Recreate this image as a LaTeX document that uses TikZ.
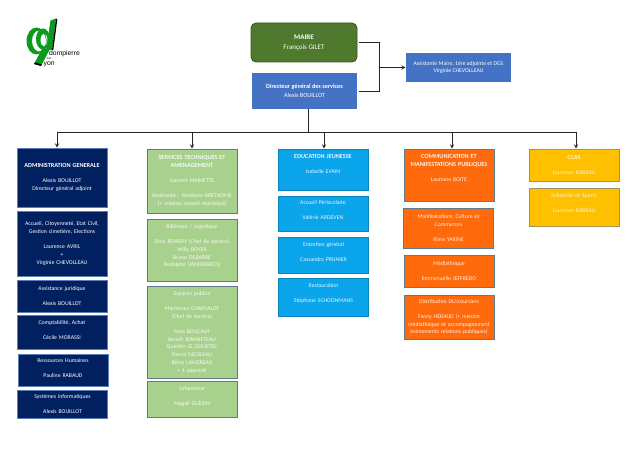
\documentclass[tikz,border=0pt]{standalone}
\usepackage{tikz, xcolor, fontspec}
\usetikzlibrary{shapes,arrows}
\setmainfont{Carlito}
\newfontfamily\logofont{Liberation Sans}
\newcommand{\hdr}[1]{{\fontsize{6.2}{7.7}\selectfont\textbf{#1}}}
\definecolor{navybox}{HTML}{002060}
\definecolor{navyline}{HTML}{5B7DB8}
\definecolor{greenbox}{HTML}{A9D18E}
\definecolor{cyanbox}{HTML}{0BA5EC}
\definecolor{orangebox}{HTML}{FF6A0D}
\definecolor{goldbox}{HTML}{FFC000}
\definecolor{mairebox}{HTML}{4F7A2E}
\definecolor{dgsbox}{HTML}{4472C4}
\definecolor{boxline}{HTML}{5F7A8C}
\definecolor{logogreen}{HTML}{0C9A1E}

\begin{document}
\begin{tikzpicture}[x=1pt, y=-1pt]
\tikzstyle{vertexr}=[rectangle, text=white, align=center, inner sep=1pt, line width=0.8pt, font=\fontsize{5.75}{7.7}\selectfont]
\tikzstyle{vertexn}=[vertexr, fill=navybox, draw=navyline, minimum width=90pt, text width=88pt]
\tikzstyle{vertexg}=[vertexr, fill=greenbox, draw=boxline, minimum width=90pt, text width=88pt, text=white!90!greenbox]
\tikzstyle{vertexb}=[vertexr, fill=cyanbox, draw=cyanbox!80!black, minimum width=90pt, text width=88pt, text=white!90!cyanbox]
\tikzstyle{vertexo}=[vertexr, fill=orangebox, draw=boxline, minimum width=90pt, text width=88pt, text=white!90!orangebox]
\tikzstyle{vertexy}=[vertexr, fill=goldbox, draw=boxline!60!goldbox, minimum width=90pt, text width=88pt, text=white!85!goldbox]
\tikzstyle{drawstyle}=[line width=0.9pt, black!85]
\tikzstyle{arrowstyle}=[drawstyle, ->, >=stealth]
\useasboundingbox (0,0) rectangle (640,473);

% logo
\fill[logogreen] (50.5,20.5) -- (56,18.5) -- (52,50) -- (46,50) -- cycle;
\fill[black] (56,18.5) -- (57.3,19.5) -- (53.3,50) -- (52,50) -- cycle;
\fill[logogreen, even odd rule] (36.5,41) ellipse [x radius=10, y radius=13.5] (39,41) ellipse [x radius=7, y radius=10.5];
\fill[logogreen, even odd rule] (43,39) ellipse [x radius=7, y radius=10.5] (44,40) ellipse [x radius=3.5, y radius=6.5];
\fill[logogreen] (42,49) -- (50,49) -- (41,66) -- (34,64) -- cycle;
\fill[black] (34,64) -- (41,66) -- (41.8,64.5) -- (35,62.3) -- cycle;
\node[inner sep=0pt, anchor=west, font=\logofont\fontsize{6.8}{8}\selectfont] (L0x0) at (49,53.5) {dompierre};
\node[inner sep=0pt, anchor=west, font=\logofont\fontsize{3.2}{4}\selectfont] (L0x1) at (46.5,58.5) {sur};
\node[inner sep=0pt, anchor=west, font=\logofont\fontsize{6.8}{8}\selectfont] (L0x2) at (43.5,64.5) {yon};

% direction
\node[vertexr, fill=mairebox, draw=mairebox!70!black, rounded corners=5pt, minimum width=106pt, minimum height=39pt, font=\fontsize{7}{10}\selectfont] (M0x0) at (304,42.5) {\textbf{MAIRE}\\Fran\c{c}ois GILET};
\node[vertexr, fill=dgsbox, minimum width=105pt, minimum height=36pt, font=\fontsize{6.2}{8.5}\selectfont] (M0x1) at (304.5,91) {\textbf{Directeur g\'en\'eral des services}\\Alexis BOUILLOT};
\node[vertexr, fill=dgsbox, minimum width=105pt, minimum height=29pt] (M1x0) at (458.5,67.5) {Assistante Maire, 1\`ere adjointe et DGS\\Virginie CHEVOLLEAU};
\coordinate (R0) at (379,67.5);
\draw[drawstyle, shorten <=2pt] (M0x0.east) -| (R0);
\draw[drawstyle, shorten <=2pt] (M0x1.east) -| (R0);
\draw[arrowstyle] (R0) -- (M1x0.west);

% colonne 1
\node[vertexn, minimum height=59pt] (C1x0) at (62,177.5) {\hdr{ADMINISTRATION GENERALE}\\[7.7pt]Alexis BOUILLOT\\Directeur g\'en\'eral adjoint};
\node[vertexn, minimum height=65pt] (C1x1) at (62,243.5) {Accueil, Citoyennet\'e, Etat Civil,\\Gestion cimeti\`ere, Elections\\[7.7pt]Laurence AVRIL\\+\\Virginie CHEVOLLEAU};
\node[vertexn, minimum height=32pt] (C1x2) at (62,296) {Assistance juridique\\[7.7pt]Alexis BOUILLOT};
\node[vertexn, minimum height=34pt] (C1x3) at (62,332) {Comptabilit\'e, Achat\\[7.7pt]C\'ecile MORASSI\\[-3.7pt]~};
\node[vertexn, minimum height=32pt] (C1x4) at (63,370) {Ressources Humaines\\[7.7pt]Pauline RABAUD\\[-3.7pt]~};
\node[vertexn, minimum height=28pt] (C1x5) at (62.5,404) {Syst\`emes informatiques\\[7.7pt]Alexis BOUILLOT};

% colonne 2
\node[vertexg, minimum height=64pt] (C2x0) at (192,181) {\hdr{SERVICES TECHNIQUES ET}\\\hdr{AMENAGEMENT}\\[7.7pt]Laurent MAINETTE\\[7.7pt]Assistante : Roselyne BRETHOME\\(+ mission conseil municipal)};
\node[vertexg, minimum height=62pt] (C2x1) at (192,250) {B\^atiment / Logistique\\[7.7pt]Dino REMERY (Chef de service)\\Willy BOYER\\Bruno DEBARRE\\Rodolphe VANDERBECQ\\[1.3pt]~};
\node[vertexg, minimum height=92pt] (C2x2) at (192,332) {Espaces publics\\[7.7pt]Marinescu CHARVALOT\\(Chef de service)\\[7.7pt]Yann BOUCAUT\\Beno\^it JEANNETEAU\\Quentin LE GOUETEC\\Pascal NICOLEAU\\R\'emy LAHOREAU\\+ 1 apprenti};
\node[vertexg, minimum height=36pt] (C2x3) at (192,399) {Urbanisme\\[7.7pt]Magali GUERIN\\[-1.7pt]~};

% colonne 3
\node[vertexb, minimum height=41pt] (C3x0) at (323,169.5) {\hdr{EDUCATION JEUNESSE}\\[7.7pt]Isabelle EVAIN\\[3.3pt]~};
\node[vertexb, minimum height=35pt] (C3x1) at (323,213.5) {Accueil P\'eriscolaire\\[7.7pt]Val\'erie ARDEVEN\\[-0.7pt]~};
\node[vertexb, minimum height=36pt] (C3x2) at (323.5,255) {Entretien g\'en\'eral\\[7.7pt]Cassandra PRUNIER\\[-1.7pt]~};
\node[vertexb, minimum height=38pt] (C3x3) at (323.5,297) {Restauration\\[7.7pt]St\'ephane SCHOONMANS\\[0.3pt]~};

% colonne 4
\node[vertexo, minimum height=52pt] (C4x0) at (449,175) {\hdr{COMMUNICATION ET}\\\hdr{MANIFESTATIONS PUBLIQUES}\\[7.7pt]Lauriane BOITE\\[6.3pt]~};
\node[vertexo, minimum height=40pt] (C4x1) at (448.5,228) {Manifestations, Culture et\\Commerces\\[7.7pt]Rime YAKINE};
\node[vertexo, minimum height=32pt] (C4x2) at (449,271) {M\'ediath\`eque\\[7.7pt]Emmanuelle JEFFREDO};
\node[vertexo, minimum height=44pt] (C4x3) at (449,317) {Distribution DU/coursiers\\[7.7pt]Fanny HERAUD (+ mission\\m\'ediath\`eque et accompagnement\\\'ev\'enements relations publiques)};

% colonne 5
\node[vertexy, minimum height=32pt] (C5x0) at (574,165) {\hdr{CCAS}\\[7.7pt]Laurence RABEAU};
\node[vertexy, minimum height=38pt] (C5x1) at (574,207) {Solidarit\'e et Sports\\[7.7pt]Laurence RABEAU\\[0.3pt]~};

% barre horizontale
\coordinate (B1) at (57,132);
\coordinate (B2) at (192,132);
\coordinate (B0) at (308,132);
\coordinate (B3) at (324,132);
\coordinate (B4) at (452,132);
\coordinate (B5) at (576,132);
\draw[drawstyle] (M0x1.south -| B0) -- (B0);
\draw[drawstyle] (B1) -- (B5);
\draw[arrowstyle] (B1) -- (B1 |- C1x0.north);
\draw[arrowstyle] (B2) -- (B2 |- C2x0.north);
\draw[arrowstyle] (B3) -- (B3 |- C3x0.north);
\draw[arrowstyle] (B4) -- (B4 |- C4x0.north);
\draw[arrowstyle] (B5) -- (B5 |- C5x0.north);
\end{tikzpicture}
\end{document}
